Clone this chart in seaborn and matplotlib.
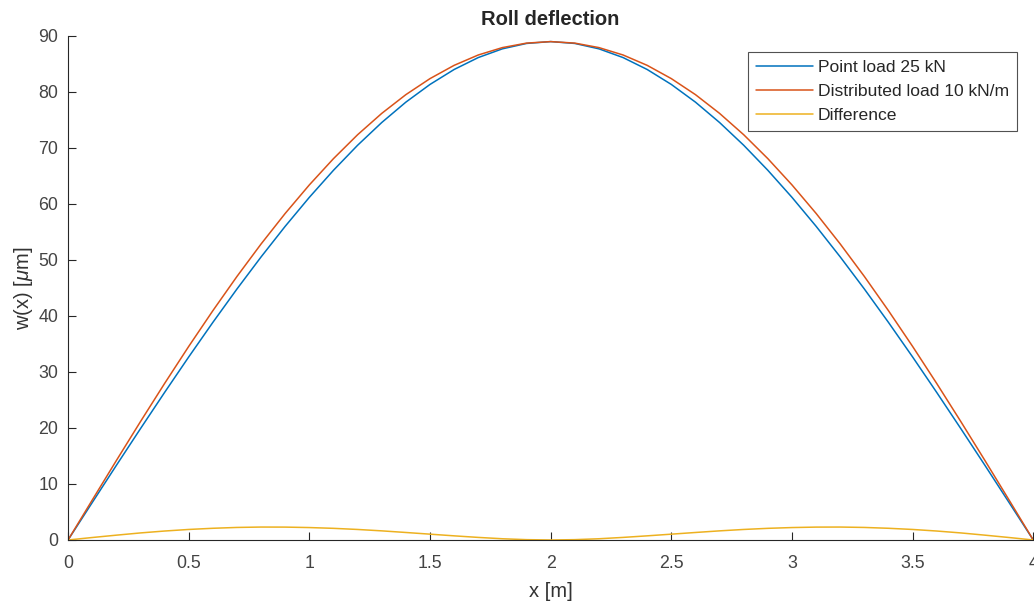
import numpy as np
import pandas as pd
import matplotlib
matplotlib.use("Agg")
import matplotlib.pyplot as plt
from matplotlib.ticker import FormatStrFormatter
import seaborn as sns

# === Data (x in m, w in micrometres) ===
x_m = [0.0, 0.1, 0.2, 0.3, 0.4, 0.5, 0.6, 0.7, 0.8, 0.9, 1.0,
       1.1, 1.2, 1.3, 1.4, 1.5, 1.6, 1.7, 1.8, 1.9, 2.0,
       2.1, 2.2, 2.3, 2.4, 2.5, 2.6, 2.7, 2.8, 2.9, 3.0,
       3.1, 3.2, 3.3, 3.4, 3.5, 3.6, 3.7, 3.8, 3.9, 4.0]

point_load = [0.0, 6.67, 13.31, 19.87, 26.34, 32.68, 38.85, 44.82, 50.55, 56.02, 61.19,
              66.02, 70.49, 74.55, 78.19, 81.35, 84.02, 86.15, 87.71, 88.67, 89.0,
              88.67, 87.71, 86.15, 84.02, 81.35, 78.19, 74.55, 70.49, 66.02, 61.19,
              56.02, 50.55, 44.82, 38.85, 32.68, 26.34, 19.87, 13.31, 6.67, 0.0]

distributed_load = [0.0, 7.11, 14.17, 21.13, 27.94, 34.56, 40.94, 47.06, 52.86, 58.32, 63.41,
                    68.10, 72.37, 76.18, 79.53, 82.39, 84.76, 86.61, 87.93, 88.73, 89.0,
                    88.73, 87.93, 86.61, 84.76, 82.39, 79.53, 76.18, 72.37, 68.10, 63.41,
                    58.32, 52.86, 47.06, 40.94, 34.56, 27.94, 21.13, 14.17, 7.11, 0.0]

difference = [0.0, 0.44, 0.86, 1.26, 1.60, 1.88, 2.09, 2.24, 2.31, 2.30, 2.22,
              2.08, 1.88, 1.63, 1.34, 1.04, 0.74, 0.46, 0.22, 0.06, 0.0,
              0.06, 0.22, 0.46, 0.74, 1.04, 1.34, 1.63, 1.88, 2.08, 2.22,
              2.30, 2.31, 2.24, 2.09, 1.88, 1.60, 1.26, 0.86, 0.44, 0.0]

labels = ["Point load 25 kN", "Distributed load 10 kN/m", "Difference"]
colors = ["#0072BD", "#D95319", "#EDB120"]
x_ticks = [0, 0.5, 1, 1.5, 2, 2.5, 3, 3.5, 4]
y_ticks = [0, 10, 20, 30, 40, 50, 60, 70, 80, 90]

# === Long table for seaborn ===
df = pd.concat([
    pd.DataFrame({"x": x_m, "w": point_load, "series": labels[0]}),
    pd.DataFrame({"x": x_m, "w": distributed_load, "series": labels[1]}),
    pd.DataFrame({"x": x_m, "w": difference, "series": labels[2]}),
], ignore_index=True)

sns.set_theme(style="ticks")
plt.rcParams["font.family"] = ["Liberation Sans", "DejaVu Sans"]
plt.rcParams["mathtext.fontset"] = "custom"
plt.rcParams["mathtext.it"] = "Liberation Sans:italic"
plt.rcParams["mathtext.rm"] = "Liberation Sans"

fig = plt.figure(figsize=(10.34, 6.03), dpi=100)
ax = fig.add_axes([0.0658, 0.1045, 0.9335, 0.8358])

sns.lineplot(data=df, x="x", y="w", hue="series", palette=colors,
             hue_order=labels, sort=False, linewidth=1.1, ax=ax)

ax.set_xlim(0, 4)
ax.set_ylim(0, 90)
ax.set_xticks(x_ticks)
ax.set_yticks(y_ticks)
ax.xaxis.set_major_formatter(FormatStrFormatter("%g"))
ax.tick_params(direction="in", length=6, width=0.8, colors="#262626",
               labelsize=12.8)
ax.tick_params(axis="x", pad=11)
ax.tick_params(axis="y", pad=7)
ax.tick_params(labelcolor="#444444")
for side in ["top", "right"]:
    ax.spines[side].set_visible(False)
for side in ["left", "bottom"]:
    ax.spines[side].set_color("#262626")
    ax.spines[side].set_linewidth(0.8)

ax.set_xlabel("x [m]", fontsize=14.5, color="#333333", labelpad=7)
ax.set_ylabel(r"w(x) [$\mu$m]", fontsize=14.5, color="#333333", labelpad=2.5)
ax.set_title("Roll deflection", fontsize=14.5, fontweight="bold", pad=8)

leg = ax.legend(loc="upper right", bbox_to_anchor=(0.983, 0.968),
                fontsize=12.6, frameon=True, fancybox=False, edgecolor="#262626",
                handlelength=3.25, handletextpad=0.3, borderpad=0.45,
                labelspacing=0.5, borderaxespad=0)
leg.get_frame().set_linewidth(0.8)
for t in leg.get_texts():
    t.set_color("#262626")

fig.savefig("out.png", dpi=100)
